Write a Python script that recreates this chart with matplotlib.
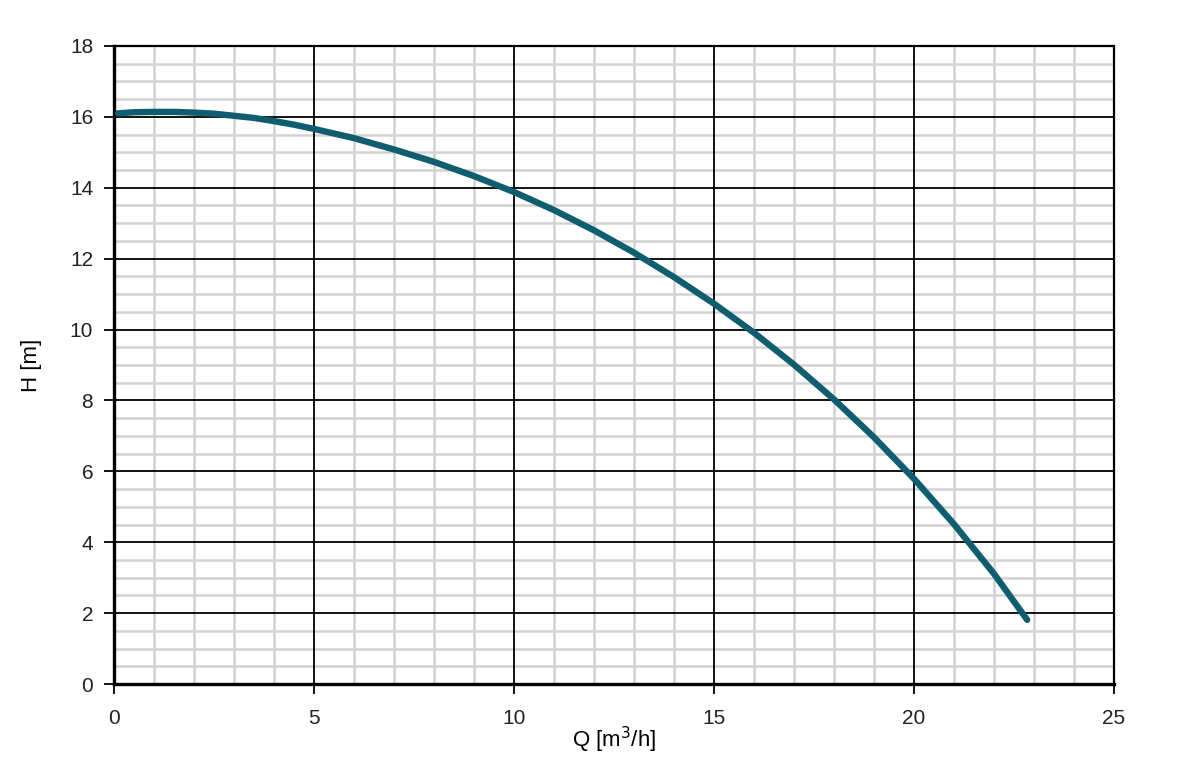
import numpy as np
import matplotlib.pyplot as plt
from matplotlib.ticker import MultipleLocator

# Pump curve
q = [0.1, 0.5, 1, 1.5, 2, 2.5, 3, 3.5, 4, 4.5, 5, 6, 7, 8, 9, 10, 11, 12, 13, 14, 15,
     16, 17, 18, 19, 20, 21, 22, 22.83]
h = [16.1, 16.13, 16.14, 16.14, 16.12, 16.09, 16.03, 15.97, 15.88, 15.78, 15.66, 15.4,
     15.08, 14.73, 14.33, 13.88, 13.37, 12.80, 12.17, 11.48, 10.73, 9.91, 9.01, 8.03,
     6.96, 5.79, 4.51, 3.11, 1.81]

plt.rcParams['font.family'] = ['Liberation Sans', 'DejaVu Sans']

fig = plt.figure(figsize=(11.86, 7.83), dpi=100)
ax = fig.add_axes([0.0961, 0.1264, 0.8432, 0.8149])
ax.set_axisbelow(True)

ax.set_xlim(0, 25)
ax.set_ylim(0, 18)
ax.xaxis.set_major_locator(MultipleLocator(5))
ax.yaxis.set_major_locator(MultipleLocator(2))
ax.xaxis.set_minor_locator(MultipleLocator(1))
ax.yaxis.set_minor_locator(MultipleLocator(0.5))

# light minor grid, black major grid on top of it
ax.grid(which='minor', color='#d2d2d2', lw=1.8)
for xv in ax.get_xticks():
    ax.axvline(xv, color='black', lw=1.3, zorder=1.8)
for yv in ax.get_yticks():
    ax.axhline(yv, color='black', lw=1.3, zorder=1.8)

ax.tick_params(which='minor', length=0)
ax.tick_params(which='major', length=7, width=1.3, labelsize=15, colors='black')
ax.tick_params(axis='y', pad=8)
ax.tick_params(axis='x', pad=11)
for lab in ax.get_xticklabels() + ax.get_yticklabels():
    lab.set_color('#222222')

for s in ['left', 'bottom']:
    ax.spines[s].set_linewidth(2.4)
for s in ['top', 'right']:
    ax.spines[s].set_linewidth(1.6)

ax.plot(q, h, color='#0f5e70', lw=4.6, solid_capstyle='round', zorder=3)

ax.set_xlabel('Q [m$^3$/h]', fontsize=16, labelpad=-2)
ax.set_ylabel('H [m]', fontsize=16, labelpad=20)

fig.savefig('out.png', dpi=100)
